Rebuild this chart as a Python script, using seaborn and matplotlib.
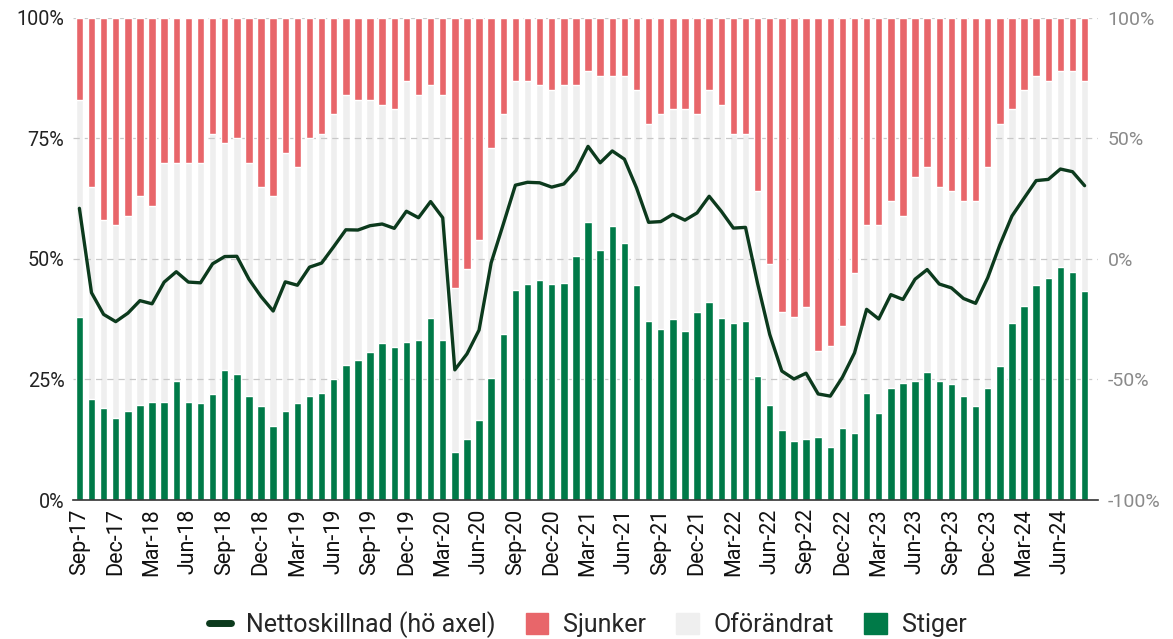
import numpy as np
import pandas as pd
import matplotlib
matplotlib.use('Agg')
import matplotlib.pyplot as plt
import seaborn as sns
from matplotlib.lines import Line2D
from matplotlib.patches import Patch

# manader sep-17 .. aug-24
months = pd.date_range('2017-09-01', periods=84, freq='MS').strftime('%b-%y').tolist()

# andel som svarar "stiger" (%)
stiger = [38, 21, 19, 17, 18.5, 19.7, 20.4, 20.4, 24.7, 20.4, 20.1, 22,
          27, 26.1, 21.6, 19.4, 15.4, 18.5, 20.1, 21.6, 22.3, 25.1, 28.1, 29,
          30.8, 32.5, 31.7, 32.8, 33.1, 37.8, 33.1, 10, 12.6, 16.5, 25.4, 34.4,
          43.6, 44.8, 45.6, 44.8, 45.1, 50.7, 57.7, 51.9, 56.8, 53.4, 44.5, 37.2,
          35.5, 37.5, 35.1, 39.1, 41, 37.8, 36.8, 37.1, 25.8, 19.7, 14.5, 12.2,
          12.6, 13, 11.1, 14.9, 14, 22.1, 18.1, 23.2, 24.2, 24.6, 26.6, 24.6,
          24, 21.6, 19.6, 23.2, 27.8, 36.8, 40.2, 44.5, 46, 48.3, 47.2, 43.4]

# andel som svarar "sjunker" (%)
sjunker = [17, 35, 42, 43, 41, 37, 39, 30, 30, 30, 30, 24,
           26, 25, 30, 35, 37, 28, 31, 25, 24, 20, 16, 17,
           17, 18, 19, 13, 16, 14, 16, 56, 52, 46, 27, 20,
           13, 13, 14, 15, 14, 14, 11, 12, 12, 12, 15, 22,
           20, 19, 19, 20, 15, 18, 24, 24, 36, 51, 61, 62,
           60, 69, 68, 64, 53, 43, 43, 38, 41, 33, 31, 35,
           36, 38, 38, 31, 22, 19, 15, 12, 13, 11, 11, 13]

df = pd.DataFrame({'month': months, 'stiger': stiger, 'sjunker': sjunker})
df['total'] = 100
df['netto'] = df['stiger'] - df['sjunker']
df['pos'] = np.arange(len(df))

c_red = '#E8666A'
c_grey = '#EFEFEF'
c_green = '#007A48'
c_line = '#0C3A1D'

sns.set_style('white')
plt.rcParams['font.family'] = ['Roboto', 'DejaVu Sans']

fig, ax = plt.subplots(figsize=(11.73, 6.39), dpi=100)
fig.subplots_adjust(left=0.062, right=0.936, top=0.972, bottom=0.2175)

bw = 0.62
# grått (oförändrat) i hela höjden
sns.barplot(data=df, x='month', y='total', order=months, color=c_grey,
            width=bw, saturation=1, ax=ax, zorder=1)
n0 = len(ax.patches)
# sjunker - flyttas upp till toppen
sns.barplot(data=df, x='month', y='sjunker', order=months, color=c_red,
            width=bw, saturation=1, ax=ax, zorder=2)
for p, s in zip(ax.patches[n0:], sjunker):
    p.set_y(100 - s)
sns.barplot(data=df, x='month', y='stiger', order=months, color=c_green,
            width=bw, saturation=1, ax=ax, zorder=2)

for y in [25, 50, 75, 100]:
    ax.axhline(y, color='#C8C8C8', lw=0.9, ls=(0, (5, 4)), zorder=1.5)

ax.set_ylim(0, 100)
ax.set_xlim(-0.55, 84.1)
ax.set_yticks([0, 25, 50, 75, 100])
ax.set_yticklabels(['0%', '25%', '50%', '75%', '100%'], fontsize=14.2, color='#222222')
ax.set_xticks(range(0, 84, 3))
ax.set_xticklabels(months[::3], rotation=90, fontsize=15.5, color='#111111')
ax.tick_params(axis='both', length=0, pad=6)
ax.set_xlabel('')
ax.set_ylabel('')
for s in ['top', 'left', 'right']:
    ax.spines[s].set_visible(False)
ax.spines['bottom'].set_color('#333333')
ax.spines['bottom'].set_linewidth(1.2)

ax2 = ax.twinx()
sns.lineplot(data=df, x='pos', y='netto', color=c_line, lw=2.4, ax=ax2)
ax2.set_ylim(-100, 100)
ax2.set_yticks([-100, -50, 0, 50, 100])
ax2.set_yticklabels(['-100%', '-50%', '0%', '50%', '100%'], fontsize=14, color='#8A8A8A')
ax2.tick_params(axis='y', length=0, pad=7)
ax2.set_ylabel('')
ax2.set_xlabel('')
for s in ax2.spines.values():
    s.set_visible(False)

handles = [Line2D([0], [0], color=c_line, lw=5),
           Patch(color=c_red), Patch(color=c_grey), Patch(color=c_green)]
labels = ['Nettoskillnad (hö axel)', 'Sjunker', 'Oförändrat', 'Stiger']
fig.legend(handles, labels, loc='center', bbox_to_anchor=(0.501, 0.022), ncol=4,
           frameon=False, fontsize=18, handlelength=0.9, handleheight=0.9,
           columnspacing=1.2, handletextpad=0.6, borderaxespad=0)

plt.savefig('out.png', dpi=100)
